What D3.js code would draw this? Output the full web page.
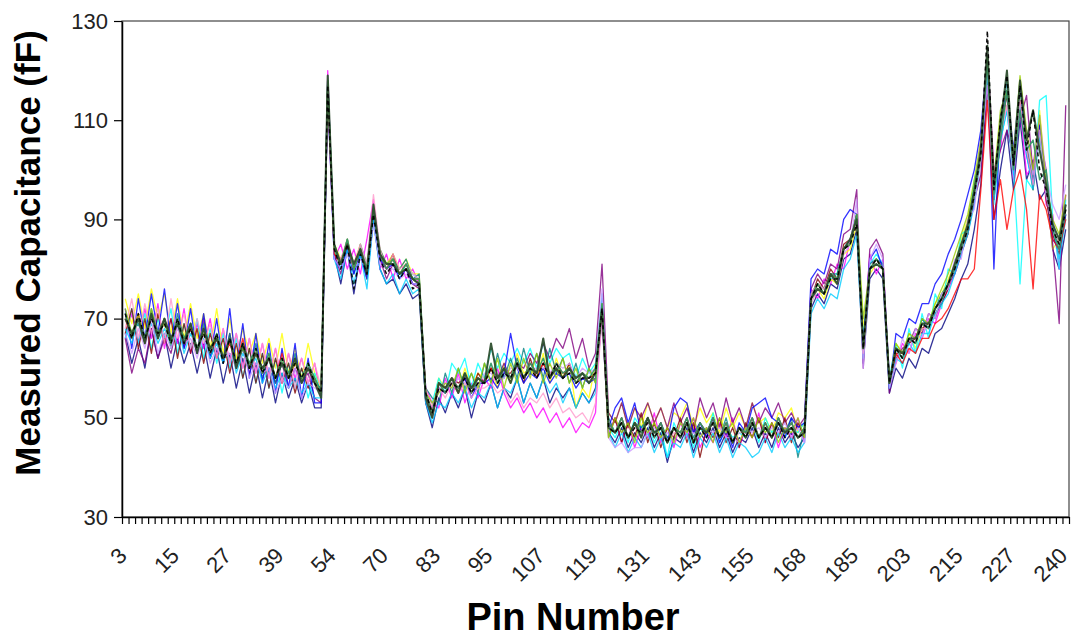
<!DOCTYPE html>
<html>
<head>
<meta charset="utf-8">
<script src="https://cdn.jsdelivr.net/npm/d3@7"></script>
<style>
  body { margin: 0; background: #fff; }
  #chart svg { display: block; font-family: Arial, "Liberation Sans", sans-serif; }
</style>
</head>
<body>
<div id="chart"></div>
<script>
// ------- data -------
const pinLabels = [3, 15, 27, 39, 54, 70, 83, 95, 107, 119, 131, 143, 155, 168, 185, 203, 215, 227, 240];
const labelEvery = 8;            // one label every 8 pins on the category axis
const nPins = (pinLabels.length - 1) * labelEvery + 1;
const yTicks = [30, 50, 70, 90, 110, 130];

const s01 = [67,61,66,60,68,62,67,60,66,61,65,59,65,58,64,57,63,56,62,55,61,54,60,53,59,54,58,53,57,52,
  52,115, 83,77,84,75,83,78,90,80,77,78,75,77,74,75, 53,
  48,54,51,55,52,56,50,55,53,57,52,56,54,58,53,57,54,58,53,56,54,56,52,55,53,56, 70,
  47,45,48,44,47,45,48,44,47,41,46,45,48,43,47,45,48,44,47,43,46,45,48,44,47,44,48,45,47,44,46,
  72,75,73,77,76,82,83,88, 61, 78,80,78, 55,
  60,58,62,60,64,63,67,68,71,74,78,81,88,97, 118, 90,100,108,96,110,98,102,94,96,84,80,88];
const s02 = [66,71,65,72,66,73,64,70,65,72,63,69,64,70,62,68,61,67,60,66,59,65,58,64,57,63,58,62,57,61,
  54,120, 82,85,80,84,79,86,94,80,83,78,82,78,80,77, 56,
  53,52,58,54,59,53,57,54,58,56,60,55,52,54,51,53,50,52,49,51,48,50,47,49,48,51, 74,
  47,50,45,49,44,48,46,51,45,48,44,49,46,50,44,47,45,49,46,50,44,48,46,51,45,49,44,48,46,50,45,
  76,74,78,77,81,80,86,90, 65, 83,79,82, 58,
  61,65,63,67,66,70,69,73,76,79,83,89,93,106, 124, 100,104,116,98,113,99,101,110,93,91,80,95];
const s03 = [74,69,75,68,76,70,75,67,74,66,73,66,71,64,72,63,70,62,68,63,67,61,66,60,67,59,64,58,65,59,
  56,117, 85,82,83,81,85,78,91,84,81,83,80,82,79,79, 55,
  52,58,56,57,55,60,56,59,58,60,56,61,57,63,59,60,58,63,57,62,58,61,52,56,54,61, 72,
  51,49,53,48,52,48,53,49,52,48,51,50,53,48,52,49,51,47,52,48,51,48,53,49,50,47,51,50,52,47,49,
  73,76,74,78,77,83,84,89, 68, 79,81,80, 57,
  65,63,67,64,68,69,73,75,78,81,86,90,97,104, 121, 96,110,113,102,116,106,96,112,97,84,86,90];
const s04 = [66,72,65,71,64,70,66,72,63,69,64,70,62,68,61,67,60,66,58,64,57,63,56,62,55,61,56,60,54,59,
  55,119, 84,80,85,81,83,81,89,82,81,82,78,81,79,78, 54,
  53,58,55,61,59,62,56,61,58,64,60,63,61,64,61,64,60,65,61,64,62,63,58,62,59,61, 75,
  48,46,49,45,50,48,49,45,48,42,49,46,49,44,48,46,51,45,48,46,47,46,49,45,50,47,49,46,48,47,49,
  74,76,75,78,79,84,86,90, 66, 81,83,81, 58,
  65,60,68,63,71,66,75,72,80,79,87,88,98,102, 120, 93,106,112,100,77,98,96,114,115,90,80,94];
const s05 = [66,59,64,61,68,62,66,63,69,64,68,63,70,62,66,61,67,60,64,59,63,60,62,57,61,56,60,57,59,54,
  53,116, 83,79,84,80,83,79,91,82,78,81,79,80,77,76, 53,
  50,56,55,57,55,58,56,57,57,60,58,61,58,61,60,63,61,65,62,66,64,68,62,66,60,63, 81,
  51,49,53,48,52,50,53,49,52,48,53,49,52,47,54,50,53,48,54,49,52,48,53,49,52,50,53,49,51,48,50,
  76,79,77,81,80,87,88,96, 60, 84,86,83, 55,
  62,64,65,68,67,71,70,74,77,79,83,87,94,99, 117, 98,104,108,103,110,115,99,107,100,85,69,113];
const s06 = [67,72,64,70,63,71,65,70,62,69,63,68,61,67,62,66,59,65,58,64,57,63,56,62,57,61,55,60,56,58,
  55,117, 83,82,85,81,84,80,92,83,80,83,79,80,78,77, 55,
  51,57,56,58,57,58,55,59,57,60,58,59,59,61,57,62,58,61,59,60,58,61,57,58,58,59, 72,
  46,50,45,49,46,51,45,49,44,48,46,50,45,49,42,48,46,50,45,48,44,49,46,50,45,49,46,50,45,49,46,
  74,78,76,80,78,85,86,91, 64, 80,82,80, 57,
  63,63,65,66,68,69,71,73,76,81,84,87,95,102, 121, 94,109,115,101,114,105,96,109,94,87,83,91];
const s07 = [71,67,69,65,72,66,70,64,71,65,68,63,69,62,66,61,67,60,64,60,65,58,62,57,61,58,63,57,60,57,
  56,118, 85,81,86,79,85,81,93,84,81,82,80,82,78,79, 56,
  54,53,59,55,60,56,59,55,61,57,63,58,62,58,64,59,63,58,64,59,62,57,61,56,60,57, 73,
  50,47,50,46,49,48,50,47,49,46,48,47,50,46,49,47,50,46,50,45,48,47,50,46,49,46,50,47,50,42,48,
  75,77,76,79,79,84,86,91, 64, 81,82,81, 57,
  64,62,66,65,70,68,72,75,77,80,85,88,96,104, 123, 96,108,118,100,116,105,98,108,96,88,85,93];
const s08 = [72,64,74,66,75,67,76,65,73,64,72,63,71,62,70,61,72,60,69,58,67,57,65,55,64,56,65,54,62,53,
  53,116, 82,80,84,79,83,78,90,82,80,81,78,80,77,77, 54,
  52,56,55,57,56,58,54,57,57,58,56,59,67,60,57,59,58,60,57,59,58,59,56,58,57,58, 71,
  48,52,54,49,53,47,50,46,49,45,52,54,53,47,49,46,50,45,48,44,49,47,52,53,54,50,49,46,50,48,49,
  78,80,79,84,83,90,92,91, 65, 82,84,80, 56,
  67,66,70,69,73,73,77,79,83,86,90,95,100,108, 123, 80,111,116,104,118,103,97,109,96,86,84,91];
const s09 = [68,65,70,66,69,65,68,65,69,63,67,64,66,62,65,61,66,59,63,60,62,57,60,56,59,56,58,55,57,54,
  54,118, 82,78,84,77,83,76,90,80,77,79,75,78,75,76, 53,
  49,53,52,55,53,56,52,55,54,57,52,56,55,58,53,57,54,58,55,57,53,56,52,55,53,55, 74,
  47,44,47,43,46,44,47,43,46,42,45,44,47,42,46,44,47,43,46,42,45,44,42,43,46,43,47,44,46,43,45,
  71,74,72,75,74,80,82,87, 62, 80,81,80, 56,
  62,61,65,63,67,67,71,73,75,79,83,87,93,102, 120, 94,106,112,99,113,103,96,107,95,89,82,90];
const s10 = [67,63,68,64,70,63,67,64,68,65,66,62,67,61,64,62,63,60,65,58,61,59,60,55,58,56,60,54,57,56,
  55,115, 82,80,83,80,82,80,89,81,80,80,78,79,77,77, 55,
  53,55,57,56,58,57,56,56,59,59,57,58,60,60,58,60,60,60,59,61,60,61,58,60,59,60, 76,
  46,44,45,43,44,44,47,48,46,47,45,49,47,47,46,48,47,48,46,46,45,48,47,48,46,48,47,49,46,48,45,
  73,76,75,79,77,83,85,94, 60, 82,85,82, 56,
  61,66,63,68,66,71,70,75,76,82,82,90,92,104, 117, 96,107,113,101,112,106,99,111,99,93,90,97];
const s11 = [68,74,66,73,67,72,65,74,66,71,64,70,65,69,62,68,61,67,60,66,59,65,58,64,57,63,56,62,57,61,
  56,119, 84,82,86,81,85,81,95,84,80,83,80,81,79,78, 56,
  52,56,54,57,55,57,54,56,56,57,55,56,53,55,52,54,53,55,52,54,51,52,50,51,49,53, 70,
  48,47,49,46,48,47,49,46,48,45,47,47,49,45,48,47,49,46,48,45,47,47,49,46,48,46,49,47,48,46,47,
  75,77,76,79,78,84,85,90, 63, 80,82,80, 57,
  64,62,66,65,68,68,72,74,77,80,84,88,95,102, 122, 95,107,113,100,114,104,97,108,95,88,85,92];
const s12 = [70,66,71,65,71,67,70,65,70,66,68,64,68,63,66,62,65,61,66,60,64,59,62,58,63,58,61,58,60,57,
  55,117, 83,81,85,80,84,80,92,83,80,82,79,81,78,78, 55,
  51,57,55,58,56,59,55,58,57,60,57,60,58,61,58,61,59,61,58,61,59,60,57,59,58,59, 72,
  49,47,50,46,49,47,50,46,49,45,48,47,50,45,49,47,50,46,49,45,48,47,50,46,49,46,50,47,49,46,48,
  74,77,75,79,78,84,85,91, 64, 80,82,80, 57,
  63,61,64,63,66,66,69,70,72,75,78,78,80,96, 114, 90,98,88,96,100,92,76,95,92,86,84,90];
const s13 = [72,67,71,66,72,67,69,65,70,66,69,64,67,64,67,62,66,61,64,61,63,59,63,58,62,58,61,58,61,58,
  55,118, 84,81,86,80,84,80,92,83,81,82,79,81,78,78, 55,
  53,55,57,56,60,55,59,56,61,57,62,56,61,57,62,58,63,57,61,58,62,57,60,56,60,57, 73,
  46,50,47,49,45,50,47,49,46,48,45,49,47,50,46,48,45,50,47,49,45,48,46,50,47,49,45,48,47,50,46,
  74,77,75,79,78,84,85,91, 70, 80,82,80, 57,
  65,63,67,66,70,69,73,76,79,83,87,91,98,106, 123, 98,112,116,103,119,108,100,111,97,90,87,95];
const s14 = [71,66,70,66,71,67,70,65,70,66,69,64,68,63,67,62,66,61,65,61,64,59,63,58,62,59,62,58,61,58,
  55,118, 84,81,86,80,84,80,92,83,80,82,79,81,78,78, 55,
  51,57,55,58,56,59,55,58,57,61,57,60,58,62,58,61,59,62,58,61,59,60,57,59,58,60, 73,
  49,47,50,46,49,47,50,46,49,45,48,47,50,45,49,47,50,46,49,45,48,47,50,46,49,46,50,47,49,46,48,
  74,77,75,79,78,84,85,91, 64, 80,82,80, 57,
  64,62,66,65,69,68,72,74,77,80,84,88,95,103, 122, 95,106,116,100,112,104,106,98,100,88,84,92];
const s15 = [70,67,70,65,71,66,70,66,69,65,69,63,68,64,66,62,66,60,65,60,63,60,62,58,61,58,62,57,60,57,
  54,119, 85,81,85,81,84,79,93,83,81,81,79,80,78,77, 54,
  50,57,56,58,55,59,56,58,57,65,58,60,57,61,58,60,59,66,58,60,58,60,58,59,57,59, 72,
  48,47,49,46,49,46,50,47,48,45,48,46,49,45,48,47,49,46,48,45,48,46,49,46,48,46,49,47,48,46,47,
  74,76,75,79,77,84,86,90, 64, 80,81,80, 57,
  64,63,66,66,69,69,72,74,77,81,85,89,96,104, 125, 97,109,120,101,118,106,112,104,97,89,86,93];
const s16 = [71,66,71,66,70,67,69,65,70,65,68,64,67,63,67,61,66,61,65,60,64,59,62,58,62,58,61,58,61,57,
  55,117, 84,80,85,76,83,79,91,82,79,81,78,80,76,77, 55,
  51,56,55,57,56,58,55,57,57,60,57,59,58,61,58,60,58,61,58,61,58,59,57,58,58,59, 72,
  48,47,49,46,48,47,49,46,48,45,48,46,49,45,48,46,49,46,48,45,48,46,49,46,48,46,49,46,48,46,47,
  74,77,75,78,78,84,85,89, 64, 80,82,80, 57,
  64,62,66,65,69,68,72,74,77,80,84,88,95,103, 128, 96,110,119,101,117,104,112,100,96,88,85,92];

const seriesList = [s01, s02, s03, s04, s05, s06, s07, s08, s09, s10, s11, s12, s13, s14, s15, s16];
const lineColors = ["#000080", "#FF00FF", "#FFFF00", "#00FFFF", "#800080", "#800000", "#008080", "#0000FF",
  "#00CCFF", "#CC99FF", "#FF99CC", "#FF0000", "#99CC00", "#339966", "#2F4F2F", "#000000"];

seriesList.forEach((s, k) => {
  if (s.length !== nPins) throw new Error(`series ${k + 1} has ${s.length} values, expected ${nPins}`);
});

// ------- chart -------
const W = 1076, H = 638;
const plot = { left: 122, right: 1069, top: 21, bottom: 517 };

const svg = d3.select("#chart").append("svg")
  .attr("width", W).attr("height", H);

const x = d3.scaleBand().domain(d3.range(nPins)).range([plot.left, plot.right]);
const xc = i => x(i) + x.bandwidth() / 2;
const xEdge = d3.scaleLinear().domain([0, nPins]).range([plot.left, plot.right]);
const y = d3.scaleLinear().domain([30, 130]).range([plot.bottom, plot.top]);

// plot frame (top / right border)
svg.append("rect")
  .attr("x", plot.left).attr("y", plot.top)
  .attr("width", plot.right - plot.left).attr("height", plot.bottom - plot.top)
  .attr("fill", "none").attr("stroke", "#444").attr("stroke-width", 1.2);

// lines
const widths = k => k === 14 ? 2 : (k >= 13 ? 1.5 : 1.3);
const line = d3.line().x((d, i) => xc(i)).y(d => y(d));
svg.append("g").selectAll("path")
  .data(seriesList)
  .join("path")
  .attr("d", line)
  .attr("fill", "none")
  .attr("stroke", (d, k) => lineColors[k])
  .attr("stroke-width", (d, k) => widths(k))
  .attr("stroke-opacity", (d, k) => k >= 13 ? 0.95 : 0.8)
  .attr("stroke-dasharray", (d, k) => k === 15 ? "4,3" : null)
  .attr("stroke-linejoin", "round");

// x axis: a tick between every pin
svg.append("g")
  .attr("transform", `translate(0,${plot.bottom})`)
  .call(d3.axisBottom(xEdge).tickValues(d3.range(0, nPins + 1)).tickSize(7).tickSizeOuter(0).tickFormat(""))
  .call(g => g.select(".domain").attr("stroke", "#000").attr("stroke-width", 1.5))
  .call(g => g.selectAll(".tick line").attr("stroke", "#000").attr("stroke-width", 1.2));

svg.append("g").selectAll("text")
  .data(pinLabels)
  .join("text")
  .attr("transform", (d, k) => `translate(${xc(k * labelEvery) + 3},557) rotate(-45)`)
  .attr("text-anchor", "end")
  .attr("fill", "#222")
  .style("font-size", "22px")
  .text(d => d);

// y axis
svg.append("g")
  .attr("transform", `translate(${plot.left},0)`)
  .call(d3.axisLeft(y).tickValues(yTicks).tickSize(8).tickSizeOuter(0).tickPadding(6))
  .call(g => g.select(".domain").attr("stroke", "#000").attr("stroke-width", 1.5))
  .call(g => g.selectAll(".tick line").attr("stroke", "#000").attr("stroke-width", 1.2))
  .call(g => g.selectAll(".tick text").attr("fill", "#222").style("font-size", "22px")
    .style("font-family", "Arial, 'Liberation Sans', sans-serif"));

// axis titles
svg.append("text")
  .attr("x", 573).attr("y", 630)
  .attr("text-anchor", "middle")
  .attr("fill", "#000")
  .style("font-size", "38px").style("font-weight", "bold")
  .text("Pin Number");

svg.append("text")
  .attr("transform", `translate(40,253) rotate(-90)`)
  .attr("text-anchor", "middle")
  .attr("fill", "#000")
  .style("font-size", "35px").style("font-weight", "bold")
  .text("Measured Capacitance (fF)");
</script>
</body>
</html>
